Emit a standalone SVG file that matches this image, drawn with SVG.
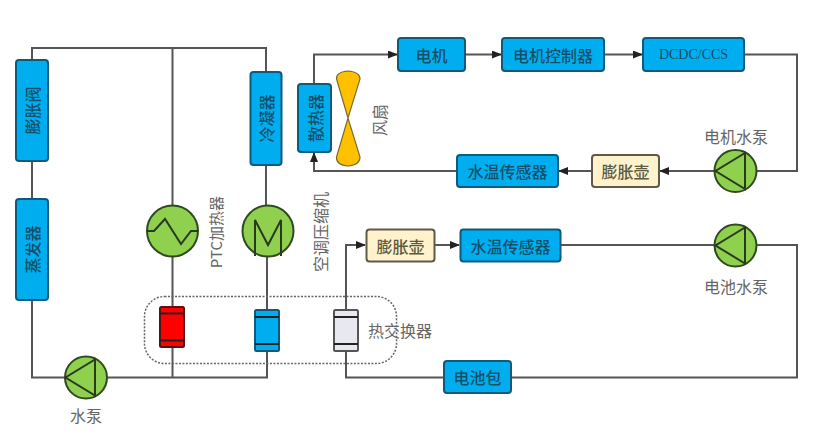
<svg xmlns="http://www.w3.org/2000/svg" width="832" height="434" viewBox="0 0 832 434">
<style>
text{font-family:"Noto Sans CJK SC","Liberation Serif",serif;text-anchor:middle;dominant-baseline:central}
.c{fill:none;stroke:#555;stroke-width:2}
.b{fill:#00aeef;stroke:#0d5a7a;stroke-width:2}
.y{fill:#fff2cc;stroke:#5f5a48;stroke-width:2}
.g{fill:#8fd14f;stroke:#2f4a1f;stroke-width:2}
.i{fill:none;stroke:#2a3a20;stroke-width:2}
.t{font-size:16px;fill:#14506a;font-weight:500}
.k{font-size:16px;fill:#5a5a40;font-weight:500}
.l{font-size:16px;fill:#666}
.h{stroke:#222;stroke-width:2}
</style>
<defs><marker id="a" markerWidth="10" markerHeight="8" refX="9" refY="4" orient="auto" markerUnits="userSpaceOnUse"><path d="M0 0L10 4L0 8Z" fill="#222"/></marker></defs>
<rect width="832" height="434" fill="#fff"/>
<g id="connectors">
<path class="c" d="M32 60V48H266V72M172.500 48V206M32 161V199M266 165V205M172.500 256V307M267 257V310M32 300V377.500H65M107 377.500H267V351M172.500 347V377.500"/>
<path class="c" d="M346 310V245H365" marker-end="url(#a)"/>
<path class="c" d="M435 245H459" marker-end="url(#a)"/>
<path class="c" d="M561 245H714M757 245H797V377.500H511M444 377.500H346V351"/>
<path class="c" d="M314 84V54.500H397" marker-end="url(#a)"/>
<path class="c" d="M465 54.500H501" marker-end="url(#a)"/>
<path class="c" d="M604 54.500H642" marker-end="url(#a)"/>
<path class="c" d="M744 54.500H797V171H757"/>
<path class="c" d="M714 171H660" marker-end="url(#a)"/>
<path class="c" d="M592 171H559" marker-end="url(#a)"/>
<path class="c" d="M457 171H314V153" marker-end="url(#a)"/>
</g>
<g id="exchanger-outline"><rect x="144.500" y="296.500" width="252" height="67" rx="20" fill="none" stroke="#666" stroke-width="1.500" stroke-dasharray="2 1.500"/></g>
<g id="expansion-valve"><rect class="b" x="16" y="60" width="32" height="101" rx="3"/><text class="t" transform="translate(32 110.500) rotate(-90)">膨胀阀</text></g>
<g id="evaporator"><rect class="b" x="16" y="199" width="32" height="101" rx="3"/><text class="t" transform="translate(32 249.500) rotate(-90)">蒸发器</text></g>
<g id="condenser"><rect class="b" x="250.500" y="72" width="31" height="93" rx="3"/><text class="t" transform="translate(266 118.500) rotate(-90)">冷凝器</text></g>
<g id="ptc-heater"><circle class="g" cx="172.500" cy="231" r="25.500"/><path class="i" d="M147 231H154L165 219L181 244L191 231H198"/><text class="l" transform="translate(215 232) rotate(-90)" style="font-size:15px">PTC加热器</text></g>
<g id="compressor"><circle class="g" cx="268" cy="231" r="25.500"/><path class="i" d="M255 256V220L268 245L281 220V256"/><text class="l" transform="translate(320 232) rotate(-90)">空调压缩机</text></g>
<g id="water-pump"><circle class="g" cx="86" cy="377.500" r="21"/><path class="i" d="M95 359.500V395.500L65.500 377.500Z"/><text class="l" x="86" y="415">水泵</text></g>
<g id="ptc-plate"><rect x="160" y="307" width="24" height="40" rx="1.500" fill="#ff0000" stroke="#5a1010" stroke-width="2"/><path class="h" d="M160 313.500H184M160 340.500H184"/></g>
<g id="cond-plate"><rect x="255" y="310" width="24" height="41" rx="1.500" fill="#00aeef" stroke="#0d5a7a" stroke-width="2"/><path class="h" d="M255 317H279M255 344H279"/></g>
<g id="heat-exchanger"><rect x="334" y="310" width="24" height="41" rx="1.500" fill="#e8e8f0" stroke="#555" stroke-width="2"/><path class="h" d="M334 317H358M334 344H358"/><text class="l" x="400" y="330">热交换器</text></g>
<g id="radiator"><rect class="b" x="298" y="84" width="33" height="68" rx="3"/><text class="t" transform="translate(314.500 118) rotate(-90)">散热器</text></g>
<g id="fan"><path d="M348 118L336.500 79Q336 72 348 71Q360 72 360 79ZM348 118L336.500 157Q336 165 348 166Q360 165 360 157Z" fill="#ffc000" stroke="#7a6a30" stroke-width="1.200"/><text class="l" transform="translate(379 120) rotate(-90)">风扇</text></g>
<g id="motor"><rect class="b" x="398" y="38" width="67" height="33" rx="3"/><text class="t" x="431.500" y="54.500">电机</text></g>
<g id="motor-controller"><rect class="b" x="502" y="38" width="102" height="33" rx="3"/><text class="t" x="553" y="54.500">电机控制器</text></g>
<g id="dcdc-ccs"><rect class="b" x="643" y="38" width="101" height="33" rx="3"/><text x="693.500" y="54.500" font-size="14" fill="#14506a" style="font-family:'Liberation Serif',serif">DCDC/CCS</text></g>
<g id="motor-pump"><circle class="g" cx="735.500" cy="171" r="21"/><path class="i" d="M745 153V189L715.500 171Z"/><text class="l" x="736" y="136">电机水泵</text></g>
<g id="motor-tank"><rect class="y" x="592" y="155" width="67" height="32" rx="3"/><text class="k" x="625.500" y="171">膨胀壶</text></g>
<g id="motor-sensor"><rect class="b" x="457" y="155" width="101" height="32" rx="3"/><text class="t" x="507.500" y="171">水温传感器</text></g>
<g id="battery-tank"><rect class="y" x="366.500" y="229.500" width="68" height="32" rx="3"/><text class="k" x="400.500" y="245.500">膨胀壶</text></g>
<g id="battery-sensor"><rect class="b" x="460.500" y="229.500" width="100" height="32" rx="3"/><text class="t" x="510.500" y="245.500">水温传感器</text></g>
<g id="battery-pump"><circle class="g" cx="735.500" cy="245.500" r="21"/><path class="i" d="M745 227.500V263.500L715.500 245.500Z"/><text class="l" x="736" y="286">电池水泵</text></g>
<g id="battery"><rect class="b" x="444" y="361" width="67" height="32" rx="3"/><text class="t" x="477.500" y="377">电池包</text></g>
</svg>
